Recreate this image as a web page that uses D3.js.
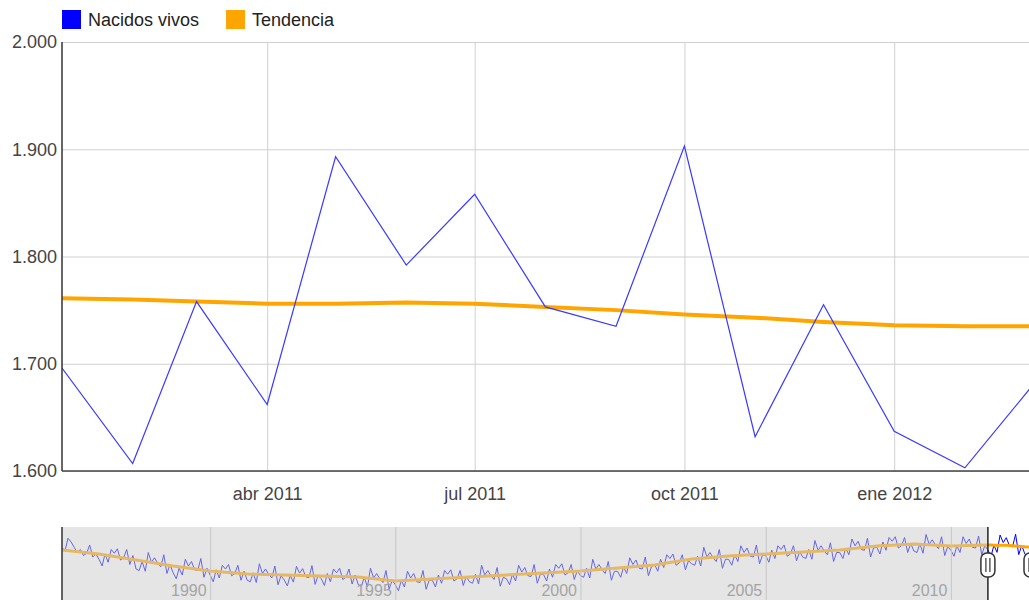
<!DOCTYPE html>
<meta charset="utf-8">
<title>Nacidos vivos</title>
<script src="https://d3js.org/d3.v7.min.js"></script>

<style>
  body {
    margin: 0;
    background-color: #fff;
  }

  svg {
    display: block;
    font-family: Arial, "Liberation Sans", sans-serif;
  }

  .grid line {
    stroke: #d0d0d0;
  }

  .grid text {
    font-family: Arial, "Liberation Sans", sans-serif;
    font-size: 18px;
    fill: #444;
  }

  .nav-axis line {
    stroke: #c6c6c6;
  }

  .nav-axis text {
    font-family: Arial, "Liberation Sans", sans-serif;
    font-size: 16px;
    fill: #a4a4a4;
  }

  .legend text {
    font-size: 18px;
    fill: #222;
  }
</style>

<body>
  <svg width="1029" height="600"></svg>
</body>

<script>
  // datos mensuales del periodo visible
  var meses = ["2011-01", "2011-02", "2011-03", "2011-04", "2011-05", "2011-06", "2011-07", "2011-08",
    "2011-09", "2011-10", "2011-11", "2011-12", "2012-01", "2012-02", "2012-03"];
  var nacidos = [1696, 1607, 1758, 1662, 1893, 1792, 1858, 1753, 1735, 1903, 1632, 1755, 1637, 1603, 1678];
  var tendencia = [1761, 1760, 1758, 1756, 1756, 1757, 1756, 1753, 1750, 1746, 1743, 1739, 1736, 1735, 1735];

  // serie historica mensual ene 1986 - dic 2010 (navegador)
  var historico = [
    1720, 1690, 1850, 1800, 1730, 1660, 1700, 1620, 1650, 1760, 1600, 1640, // 1986
    1570, 1480, 1640, 1530, 1700, 1650, 1710, 1560, 1590, 1700, 1500, 1620, // 1987
    1440, 1420, 1540, 1410, 1660, 1530, 1590, 1520, 1470, 1630, 1380, 1500, // 1988
    1390, 1310, 1450, 1360, 1570, 1480, 1540, 1430, 1420, 1580, 1330, 1450, // 1989
    1360, 1270, 1430, 1320, 1490, 1440, 1500, 1350, 1380, 1490, 1290, 1410, // 1990
    1290, 1270, 1390, 1260, 1510, 1380, 1440, 1370, 1320, 1480, 1230, 1350, // 1991
    1295, 1215, 1355, 1265, 1475, 1385, 1445, 1335, 1325, 1485, 1235, 1355, // 1992
    1310, 1220, 1380, 1270, 1440, 1390, 1450, 1300, 1330, 1440, 1240, 1360, // 1993
    1230, 1210, 1330, 1200, 1450, 1320, 1380, 1310, 1260, 1420, 1170, 1290, // 1994
    1230, 1150, 1290, 1200, 1410, 1320, 1380, 1270, 1260, 1420, 1170, 1290, // 1995
    1290, 1200, 1360, 1250, 1420, 1370, 1430, 1280, 1310, 1420, 1220, 1340, // 1996
    1270, 1250, 1370, 1240, 1490, 1360, 1420, 1350, 1300, 1460, 1210, 1330, // 1997
    1310, 1230, 1370, 1280, 1490, 1400, 1460, 1350, 1340, 1500, 1250, 1370, // 1998
    1370, 1280, 1440, 1330, 1500, 1450, 1510, 1360, 1390, 1500, 1300, 1420, // 1999
    1350, 1330, 1450, 1320, 1570, 1440, 1500, 1430, 1380, 1540, 1290, 1410, // 2000
    1410, 1330, 1470, 1380, 1590, 1500, 1560, 1450, 1440, 1600, 1350, 1470, // 2001
    1500, 1410, 1570, 1460, 1630, 1580, 1640, 1490, 1520, 1630, 1430, 1550, // 2002
    1510, 1490, 1610, 1480, 1730, 1600, 1660, 1590, 1540, 1700, 1450, 1570, // 2003
    1570, 1490, 1630, 1540, 1750, 1660, 1720, 1610, 1600, 1760, 1510, 1630, // 2004
    1620, 1530, 1690, 1580, 1750, 1700, 1760, 1610, 1640, 1750, 1550, 1670, // 2005
    1600, 1580, 1700, 1570, 1820, 1690, 1750, 1680, 1630, 1790, 1540, 1660, // 2006
    1660, 1580, 1720, 1630, 1840, 1750, 1810, 1700, 1690, 1850, 1600, 1720, // 2007
    1730, 1640, 1800, 1690, 1860, 1810, 1870, 1720, 1750, 1860, 1660, 1780, // 2008
    1680, 1660, 1780, 1650, 1900, 1770, 1830, 1760, 1710, 1870, 1620, 1740, // 2009
    1690, 1610, 1750, 1660, 1870, 1780, 1840, 1730, 1720, 1880, 1630, 1750  // 2010
  ];
  // tendencia historica al 1 de enero de cada ano, 1986 - 2010
  var anosHist = d3.range(1986, 2011);
  var tendenciaHist = [1694, 1641, 1561, 1481, 1414, 1374, 1361, 1348, 1334, 1281, 1308, 1334, 1361,
    1388, 1414, 1454, 1494, 1574, 1614, 1641, 1668, 1694, 1748, 1774, 1748];

  var yTicks = [1600, 1700, 1800, 1900, 2000];
  var xTicks = ["2011-04", "2011-07", "2011-10", "2012-01"];
  var navTicks = [1990, 1995, 2000, 2005, 2010];
  var series = [
    { name: "Nacidos vivos", color: "#0000ff" },
    { name: "Tendencia", color: "#ffa500" }
  ];

  var es = d3.timeFormatLocale({
    dateTime: "%A, %e de %B de %Y, %X", date: "%d/%m/%Y", time: "%H:%M:%S", periods: ["AM", "PM"],
    days: ["domingo", "lunes", "martes", "miércoles", "jueves", "viernes", "sábado"],
    shortDays: ["dom", "lun", "mar", "mié", "jue", "vie", "sáb"],
    months: ["enero", "febrero", "marzo", "abril", "mayo", "junio", "julio", "agosto", "septiembre", "octubre", "noviembre", "diciembre"],
    shortMonths: ["ene", "feb", "mar", "abr", "may", "jun", "jul", "ago", "sep", "oct", "nov", "dic"]
  });
  var fmtMes = es.utcFormat("%b %Y");
  var fmtNum = d3.formatLocale({ decimal: ",", thousands: ".", grouping: [3], currency: ["", "€"] }).format(",d");
  var parseMes = d3.utcParse("%Y-%m");
  var parseAno = d3.utcParse("%Y");

  var svg = d3.select("svg");
  var plotTop = 42, plotBottom = 471, plotLeft = 62;

  var fechas = meses.map(parseMes);
  var x = d3.scaleUtc()
    .domain([fechas[0], fechas[fechas.length - 1]])
    .range([plotLeft, 1031]);
  var y = d3.scaleLinear().domain([1600, 2000]).range([plotBottom, plotTop]);

  // --- leyenda
  var legend = svg.append("g").attr("class", "legend");
  var lx = plotLeft;
  series.forEach(function (s) {
    legend.append("rect").attr("x", lx).attr("y", 10).attr("width", 19).attr("height", 19).attr("fill", s.color);
    var t = legend.append("text").attr("x", lx + 26).attr("y", 26).text(s.name);
    lx += 26 + t.node().getComputedTextLength() + 27;
  });

  // --- rejilla y ejes
  svg.append("g")
    .attr("class", "grid")
    .attr("transform", "translate(" + plotLeft + ",0)")
    .call(d3.axisLeft(y).tickValues(yTicks).tickFormat(fmtNum).tickSize(-1000).tickPadding(5))
    .call(function (g) { g.select(".domain").remove(); });

  svg.append("g")
    .attr("class", "grid")
    .attr("transform", "translate(0," + plotBottom + ")")
    .call(d3.axisBottom(x).tickValues(xTicks.map(parseMes)).tickFormat(fmtMes)
      .tickSize(-(plotBottom - plotTop)).tickPadding(16))
    .call(function (g) { g.select(".domain").remove(); });

  svg.append("clipPath").attr("id", "plot")
    .append("rect").attr("x", plotLeft).attr("y", plotTop).attr("width", 1000).attr("height", plotBottom - plotTop);

  var linea = d3.line()
    .x(function (d) { return x(d[0]); })
    .y(function (d) { return y(d[1]); });

  var plot = svg.append("g").attr("clip-path", "url(#plot)");
  plot.append("path")
    .attr("d", linea(d3.zip(fechas, tendencia)))
    .attr("fill", "none").attr("stroke", series[1].color).attr("stroke-width", 4);
  plot.append("path")
    .attr("d", linea(d3.zip(fechas, nacidos)))
    .attr("fill", "none").attr("stroke", "#3a3aff").attr("stroke-width", 1.2);

  svg.append("line").attr("x1", plotLeft).attr("x2", plotLeft).attr("y1", plotTop).attr("y2", plotBottom)
    .attr("stroke", "#333").attr("stroke-width", 1.5);
  svg.append("line").attr("x1", plotLeft).attr("x2", 1029).attr("y1", plotBottom).attr("y2", plotBottom)
    .attr("stroke", "#444").attr("stroke-width", 1.5);

  // --- navegador
  var navTop = 527, navBottom = 600;
  var inicioHist = parseAno(anosHist[0]);
  var fechasHist = historico.map(function (v, i) { return d3.utcMonth.offset(inicioHist, i); });
  var xn = d3.scaleUtc().domain([inicioHist, fechas[fechas.length - 1]]).range([plotLeft, 1031]);
  var yn = d3.scaleLinear().domain([1000, 2000]).range([602, navTop]);

  var lineaNav = d3.line()
    .x(function (d) { return xn(d[0]); })
    .y(function (d) { return yn(d[1]); });

  var nav = svg.append("g");
  nav.append("path")
    .attr("d", lineaNav(d3.zip(fechasHist.concat(fechas), historico.concat(nacidos))))
    .attr("fill", "none").attr("stroke", "#0000ff").attr("stroke-width", 1);
  nav.append("path")
    .attr("d", lineaNav(d3.zip(anosHist.map(parseAno).concat(fechas), tendenciaHist.concat(tendencia))))
    .attr("fill", "none").attr("stroke", series[1].color).attr("stroke-width", 3);

  var selIni = xn(fechas[0]);
  nav.append("rect")
    .attr("x", plotLeft).attr("y", navTop).attr("width", selIni - plotLeft).attr("height", navBottom - navTop)
    .attr("fill", "#cccccc").attr("fill-opacity", 0.5);

  svg.append("g")
    .attr("class", "nav-axis")
    .attr("transform", "translate(0," + navBottom + ")")
    .call(d3.axisBottom(xn).tickValues(navTicks.map(parseAno))
      .tickFormat(d3.utcFormat("%Y")).tickSize(-(navBottom - navTop)))
    .call(function (g) {
      g.select(".domain").remove();
      g.selectAll("text").attr("text-anchor", "end").attr("x", -4).attr("y", -4).attr("dy", null);
    });

  svg.append("line").attr("x1", plotLeft).attr("x2", plotLeft).attr("y1", navTop).attr("y2", navBottom)
    .attr("stroke", "#333").attr("stroke-width", 1.5);

  // tiradores de la seleccion
  [selIni, xn(fechas[fechas.length - 1])].forEach(function (hx) {
    var h = svg.append("g").attr("transform", "translate(" + hx + ",0)");
    h.append("line").attr("y1", navTop).attr("y2", navBottom).attr("stroke", "#222").attr("stroke-width", 1.5);
    h.append("rect").attr("x", -7).attr("y", 553).attr("width", 14).attr("height", 24).attr("rx", 6)
      .attr("fill", "#fff").attr("stroke", "#333").attr("stroke-width", 1.5);
    h.append("line").attr("x1", -2).attr("x2", -2).attr("y1", 558).attr("y2", 572).attr("stroke", "#333").attr("stroke-width", 1.2);
    h.append("line").attr("x1", 2).attr("x2", 2).attr("y1", 558).attr("y2", 572).attr("stroke", "#333").attr("stroke-width", 1.2);
  });
</script>
